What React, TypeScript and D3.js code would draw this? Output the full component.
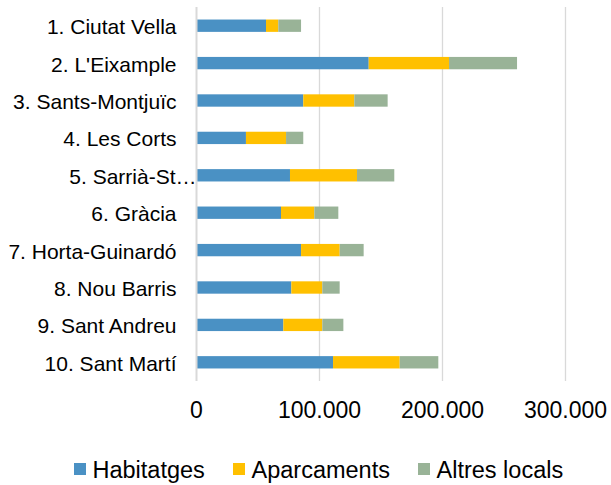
import { useEffect, useRef } from "react";
import * as d3 from "d3";

// Districts of Barcelona, top to bottom
const districts = [
  "1. Ciutat Vella",
  "2. L'Eixample",
  "3. Sants-Montjuïc",
  "4. Les Corts",
  "5. Sarrià-St…",
  "6. Gràcia",
  "7. Horta-Guinardó",
  "8. Nou Barris",
  "9. Sant Andreu",
  "10. Sant Martí",
];

const seriesNames = ["Habitatges", "Aparcaments", "Altres locals"];

const habitatges = [56500, 140000, 86800, 40200, 76000, 68700, 85000, 77100, 70600, 111000];
const aparcaments = [10000, 65300, 41500, 32600, 54500, 27100, 31400, 25200, 31700, 54200];
const altresLocals = [18500, 55300, 27100, 14000, 30300, 19500, 19500, 14100, 17100, 31400];

const xTicks = [0, 100000, 200000, 300000];

const colors = ["#4A91C4", "#FFC000", "#99B397"];

const App = () => {
  const svgRef = useRef<SVGSVGElement>(null);

  useEffect(() => {
    const width = 611;
    const height = 485;
    const plot = { left: 196.5, right: 565.5, top: 7, bottom: 381 };

    const svg = d3.select(svgRef.current);
    svg.selectAll("*").remove();
    svg.attr("width", width).attr("height", height);

    const rows = districts.map((d, i) => ({
      district: d,
      Habitatges: habitatges[i],
      Aparcaments: aparcaments[i],
      "Altres locals": altresLocals[i],
    }));

    const stack = d3.stack<any>().keys(seriesNames);
    const layers = stack(rows);

    const x = d3.scaleLinear().domain([0, 300000]).range([plot.left, plot.right]);
    const y = d3
      .scaleBand()
      .domain(districts)
      .range([plot.top, plot.bottom])
      .paddingInner(0.67)
      .paddingOuter(0.335);

    const font = "'Liberation Sans', Arial, sans-serif";

    // gridlines
    svg
      .append("g")
      .selectAll("line")
      .data(xTicks.slice(1))
      .enter()
      .append("line")
      .attr("x1", (d) => x(d))
      .attr("x2", (d) => x(d))
      .attr("y1", plot.top)
      .attr("y2", plot.bottom)
      .attr("stroke", "#D9D9D9")
      .attr("stroke-width", 1.3);

    // bars
    svg
      .append("g")
      .selectAll("g")
      .data(layers)
      .enter()
      .append("g")
      .attr("fill", (_, i) => colors[i])
      .selectAll("rect")
      .data((d) => d)
      .enter()
      .append("rect")
      .attr("x", (d) => x(d[0]))
      .attr("width", (d) => x(d[1]) - x(d[0]))
      .attr("y", (d) => y(d.data.district)!)
      .attr("height", y.bandwidth());

    // vertical axis line
    svg
      .append("line")
      .attr("x1", x(0))
      .attr("x2", x(0))
      .attr("y1", plot.top)
      .attr("y2", plot.bottom)
      .attr("stroke", "#D9D9D9")
      .attr("stroke-width", 2);

    // category labels
    svg
      .append("g")
      .selectAll("text")
      .data(districts)
      .enter()
      .append("text")
      .attr("x", (d) => (d.endsWith("…") ? x(0) : x(0) - 20))
      .attr("y", (d) => y(d)! + y.bandwidth() / 2 + 1)
      .attr("dominant-baseline", "central")
      .attr("text-anchor", "end")
      .attr("font-family", font)
      .attr("font-size", 21)
      .attr("fill", "#000")
      .text((d) => d);

    // x tick labels
    const fmt = (v: number) => d3.format(",")(v).replace(/,/g, ".");
    svg
      .append("g")
      .selectAll("text")
      .data(xTicks)
      .enter()
      .append("text")
      .attr("x", (d) => x(d))
      .attr("y", 418)
      .attr("text-anchor", "middle")
      .attr("font-family", font)
      .attr("font-size", 23)
      .attr("fill", "#000")
      .text((d) => fmt(d));

    // legend
    const legendX = [74, 233, 418];
    const legend = svg
      .append("g")
      .selectAll("g")
      .data(seriesNames)
      .enter()
      .append("g")
      .attr("transform", (_, i) => `translate(${legendX[i]},463)`);
    legend
      .append("rect")
      .attr("width", 12)
      .attr("height", 12)
      .attr("fill", (_, i) => colors[i]);
    legend
      .append("text")
      .attr("x", 18.5)
      .attr("y", 14.5)
      .attr("font-family", font)
      .attr("font-size", 23.5)
      .attr("fill", "#000")
      .text((d) => d);
  }, []);

  return (
    <div style={{ position: "absolute", left: 0, top: 0 }}>
      <svg ref={svgRef} style={{ display: "block" }}></svg>
    </div>
  );
};

export default App;
